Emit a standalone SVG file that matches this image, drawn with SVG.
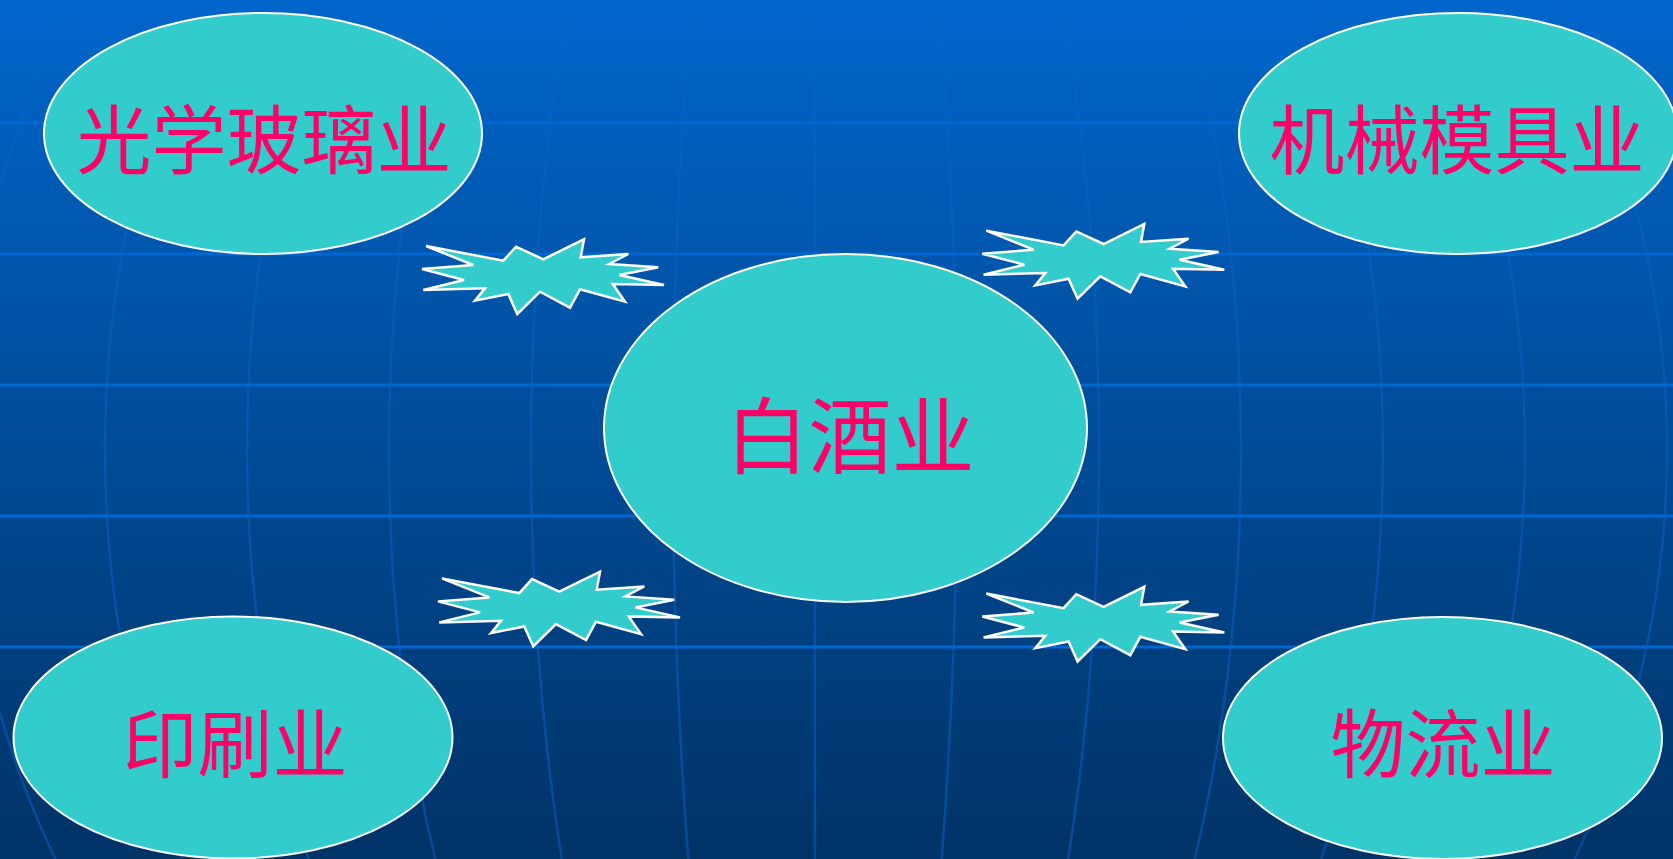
<svg xmlns="http://www.w3.org/2000/svg" xmlns:xlink="http://www.w3.org/1999/xlink" width="1673" height="859" viewBox="0 0 1673 859">
  <style>
    .node { fill: #33CCCC; stroke: #FFFFFF; stroke-width: 2; }
    .label { fill: #FF0066; font-family: "Noto Sans CJK SC", "Noto Sans CJK JP", sans-serif; font-size: 75px; text-anchor: middle; }
    .big { font-size: 83px; }
    .burst { fill: #33CCCC; stroke: #FFFFFF; stroke-width: 2.5; stroke-linejoin: miter; }
    .hline { stroke: #0066D0; stroke-width: 3; }
    .mer { fill: none; stroke: #0A62C8; stroke-width: 2.5; opacity: 0.5; }
  </style>
  <defs>
    <linearGradient id="bg" x1="0" y1="0" x2="0" y2="1">
      <stop offset="0" stop-color="#0066CC"/>
      <stop offset="1" stop-color="#003366"/>
    </linearGradient>
    <path id="burst" d="M426,246 L503.3,260.7 L516,246.7 L543.3,259.3 L584,239.3 L580.7,257.3 L628.3,254 L609.3,264 L658.3,267.3 L619.3,275 L664,285 L612.7,284 L625,301.7 L580,289.3 L570,307.7 L540,291.7 L517.3,314 L508.3,294 L475,300.7 L485,288.3 L423.3,290 L464,280 L422,269 L473.3,265 Z"/>
  </defs>

  <g id="background">
    <rect x="0" y="0" width="1673" height="859" fill="url(#bg)"/>
    <g id="meridians">
      <line class="mer" x1="815" y1="0" x2="815" y2="859"/>
      <ellipse class="mer" cx="815" cy="450" rx="142" ry="903"/>
      <ellipse class="mer" cx="815" cy="450" rx="284" ry="903"/>
      <ellipse class="mer" cx="815" cy="450" rx="426" ry="903"/>
      <ellipse class="mer" cx="815" cy="450" rx="568" ry="903"/>
      <ellipse class="mer" cx="815" cy="450" rx="710" ry="903"/>
      <ellipse class="mer" cx="815" cy="450" rx="852" ry="903"/>
    </g>
    <g id="parallels">
      <line class="hline" x1="0" y1="123" x2="1673" y2="123"/>
      <line class="hline" x1="0" y1="254" x2="1673" y2="254"/>
      <line class="hline" x1="0" y1="385" x2="1673" y2="385"/>
      <line class="hline" x1="0" y1="516" x2="1673" y2="516"/>
      <line class="hline" x1="0" y1="647" x2="1673" y2="647"/>
    </g>
  </g>

  <g id="connectors">
    <use xlink:href="#burst" href="#burst" class="burst"/>
    <use xlink:href="#burst" href="#burst" class="burst" transform="translate(560.3,-15.3)"/>
    <use xlink:href="#burst" href="#burst" class="burst" transform="translate(16,332.4)"/>
    <use xlink:href="#burst" href="#burst" class="burst" transform="translate(560.3,347.5)"/>
  </g>

  <g id="n-guangxue">
    <ellipse class="node" cx="263" cy="133.5" rx="219" ry="120.5"/>
    <text class="label" x="264" y="168">光学玻璃业</text>
  </g>
  <g id="n-jixie">
    <ellipse class="node" cx="1458" cy="133.5" rx="219" ry="120.5"/>
    <text class="label" x="1457" y="168">机械模具业</text>
  </g>
  <g id="n-baijiu">
    <ellipse class="node" cx="845.5" cy="428" rx="241.5" ry="174"/>
    <text class="label big" x="850" y="467">白酒业</text>
  </g>
  <g id="n-yinshua">
    <ellipse class="node" cx="233" cy="737.5" rx="219.5" ry="121"/>
    <text class="label" x="235" y="772">印刷业</text>
  </g>
  <g id="n-wuliu">
    <ellipse class="node" cx="1442.5" cy="738" rx="219.5" ry="121"/>
    <text class="label" x="1443" y="772">物流业</text>
  </g>
</svg>
